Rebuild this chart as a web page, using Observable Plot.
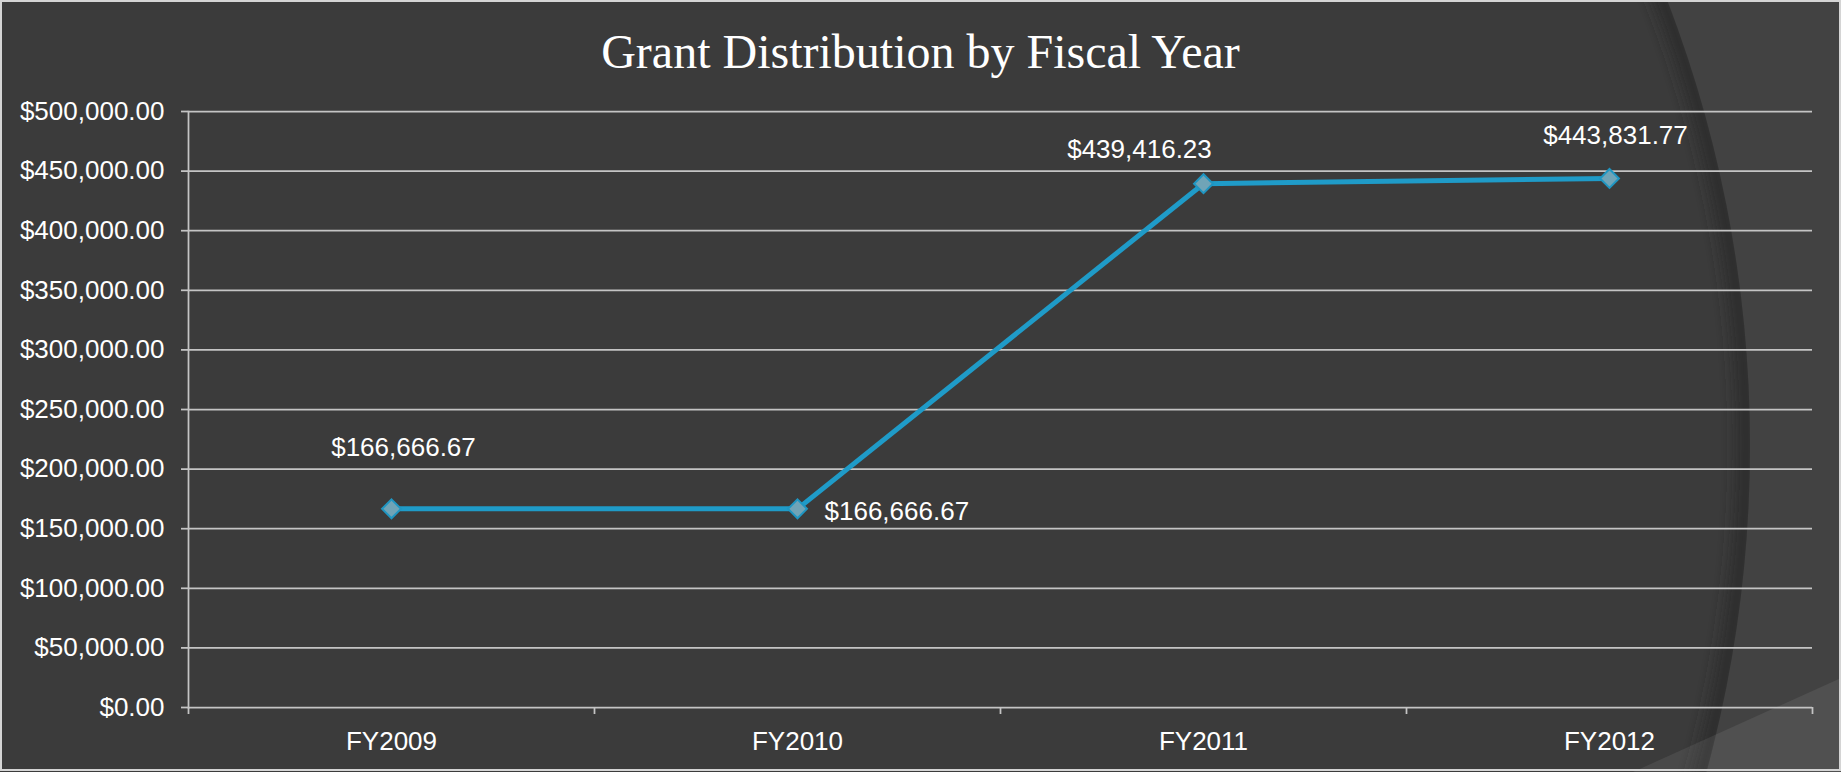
<!DOCTYPE html>
<html><head><meta charset="utf-8">
<script src="https://cdn.jsdelivr.net/npm/d3@7"></script>
<script src="https://cdn.jsdelivr.net/npm/@observablehq/plot@0.6"></script>
<style>
html,body{margin:0;padding:0;background:#3b3b3b;}
#wrap{position:relative;width:1841px;height:772px;overflow:hidden;background:#3b3b3b;}
#bg{position:absolute;left:0;top:0;}
#title{position:relative;height:90px;box-sizing:border-box;padding-top:28px;text-align:center;font-family:"Liberation Serif","Times New Roman",serif;font-size:48px;line-height:48px;color:#fff;}
#chart{position:relative;}
#chart svg{display:block;}
</style></head><body>
<div id="wrap">
<svg id="bg" width="1841" height="772">
  <defs>
    <filter id="blur" x="-10%" y="-10%" width="120%" height="120%"><feGaussianBlur stdDeviation="8"/></filter>
    <clipPath id="inside"><circle cx="510" cy="446" r="1240"/></clipPath>
    <clipPath id="tri"><polygon points="1841,678 1841,772 1633,772"/></clipPath>
  </defs>
  <rect width="1841" height="772" fill="#424242"/>
  <circle cx="510" cy="446" r="1240" fill="#3b3b3b"/>
  <g clip-path="url(#inside)"><circle cx="510" cy="446" r="1236" fill="none" stroke="#2c2c2c" stroke-width="16" filter="url(#blur)"/></g>
  <polygon points="1841,678 1841,772 1633,772" fill="#ffffff" fill-opacity="0.075"/>
  <rect x="1" y="1" width="1839" height="769" fill="none" stroke="#d4d4d4" stroke-width="2"/>
</svg>
<div id="title">Grant Distribution by Fiscal Year</div>
<div id="chart"></div>
</div>
<script>
const years = ["FY2009", "FY2010", "FY2011", "FY2012"];
const grants = [166666.67, 166666.67, 439416.23, 443831.77];
const yTicks = [0, 50000, 100000, 150000, 200000, 250000, 300000, 350000, 400000, 450000, 500000];

const data = years.map((year, i) => ({year, value: grants[i]}));
const fmt = d3.format("$,.2f");
const W = 1841, H = 682, ML = 188, MR = 29, MT = 21, MB = 65;
const band = (W - ML - MR) / years.length;
const grid = "#c4c4c4";
const gw = 1.75;
const fs = 26;

function label(year, opts) {
  return Plot.text(data.filter(d => d.year === year), {
    x: "year", y: "value", text: d => fmt(d.value), fill: "#ffffff", fontSize: fs, ...opts
  });
}

const chart = Plot.plot({
  width: W, height: H,
  marginLeft: ML, marginRight: MR, marginTop: MT, marginBottom: MB,
  style: {background: "transparent", color: "#ffffff", fontFamily: "'Liberation Sans', Arial, sans-serif", fontSize: fs + "px", overflow: "visible"},
  x: {type: "band", domain: years, padding: 0, label: null},
  y: {domain: [0, 500000], label: null},
  marks: [
    Plot.gridY(yTicks, {stroke: grid, strokeOpacity: 1, strokeWidth: gw}),
    Plot.axisY(yTicks, {tickSize: 7, tickPadding: 17, tickFormat: fmt, stroke: grid, strokeWidth: gw, fill: "#ffffff", fontSize: fs, label: null}),
    Plot.frame({anchor: "left", stroke: grid, strokeWidth: gw}),
    Plot.axisX(years, {tickSize: 7, dx: -band / 2, tickFormat: () => "", stroke: grid, strokeWidth: gw, label: null}),
    Plot.axisX([years[years.length - 1]], {tickSize: 7, dx: band / 2, tickFormat: () => "", stroke: grid, strokeWidth: gw, label: null}),
    Plot.axisX(years, {tickSize: 0, tickPadding: 24, fill: "#ffffff", fontSize: fs, label: null}),
    Plot.line(data, {x: "year", y: "value", stroke: "#1f9bc8", strokeWidth: 5}),
    Plot.dot(data, {x: "year", y: "value", symbol: "diamond2", r: 8.5, fill: "#70a4b7", stroke: "#1f96c2", strokeWidth: 2}),
    label("FY2009", {dx: 12, dy: -61}),
    label("FY2010", {dx: 27, dy: 3, textAnchor: "start"}),
    label("FY2011", {dx: -64, dy: -34}),
    label("FY2012", {dx: 6, dy: -43})
  ]
});
document.getElementById("chart").appendChild(chart);
</script>
</body></html>
